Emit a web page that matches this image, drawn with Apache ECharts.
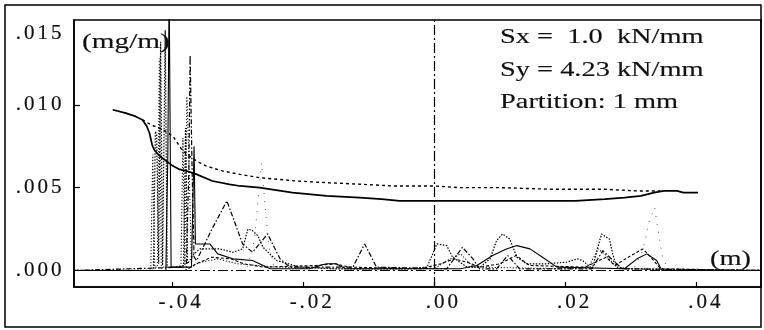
<!DOCTYPE html>
<html>
<head>
<meta charset="utf-8">
<script src="https://cdn.jsdelivr.net/npm/echarts@6/dist/echarts.min.js"></script>
<style>
  html, body { margin: 0; padding: 0; background: #fff; }
  #chart { width: 764px; height: 330px; }
</style>
</head>
<body>
<div id="chart"></div>
<script>
// Positions along the specimen in metres, densities in mg/m.
const xTickValues = [-0.04, -0.02, 0, 0.02, 0.04];
const xTickLabels = ['-.04', '-.02', '.00', '.02', '.04'];
const yTickValues = [0, 0.005, 0.010, 0.015];
const yTickLabels = ['.000', '.005', '.010', '.015'];

// Overall curve (solid)
const totalX = [-0.0490, -0.0470, -0.0455, -0.0445, -0.0438, -0.0434, -0.0430, -0.0427, -0.0423, -0.0415,
  -0.0408, -0.0398, -0.0388, -0.0377, -0.0362, -0.0338, -0.0312, -0.0296, -0.0266, -0.0216,
  -0.0164, -0.0114, -0.0080, -0.0053, 0.0039, 0.0120, 0.0200, 0.0215, 0.0260, 0.0290,
  0.0315, 0.0335, 0.0350, 0.0370, 0.0380, 0.0402];
const totalY = [0.0097, 0.0095, 0.0093, 0.0091, 0.0087, 0.0083, 0.0076, 0.0073, 0.0071, 0.0068,
  0.0066, 0.0063, 0.0061, 0.0060, 0.0058, 0.0054, 0.0052, 0.0051, 0.0050, 0.0047,
  0.0045, 0.0044, 0.0043, 0.0042, 0.0042, 0.0042, 0.0042, 0.0042, 0.0043, 0.0044,
  0.0045, 0.0047, 0.0048, 0.0048, 0.0047, 0.0047];

// Second overall curve (short dashes)
const upperX = [-0.0445, -0.0432, -0.0414, -0.0398, -0.0383, -0.0373, -0.0362, -0.0347, -0.0322, -0.0296,
  -0.0266, -0.0210, -0.0164, -0.0110, -0.0063, 0.0000, 0.0039, 0.0100, 0.0180, 0.0260, 0.0310, 0.0345];
const upperY = [0.0091, 0.0088, 0.0085, 0.0081, 0.0072, 0.0069, 0.0066, 0.0063, 0.0060, 0.0058,
  0.0056, 0.0054, 0.0053, 0.0052, 0.0051, 0.0051, 0.0050, 0.0050, 0.0049, 0.0049, 0.0048, 0.0048];

// Dotted component
const dotX = [-0.0549, -0.0428, -0.0425, -0.0423, -0.0420, -0.0417, -0.0414, -0.0410, -0.0407, -0.0395,
  -0.0382, -0.0379, -0.0376, -0.0366, -0.0357, -0.0327, -0.0307, -0.0292, -0.0284, -0.0277,
  -0.0269, -0.0261, -0.0240, -0.0205, -0.0150, -0.0100, -0.0040, -0.0011, 0.0004, 0.0019,
  0.0028, 0.0050, 0.0070, 0.0085, 0.0095, 0.0104, 0.0115, 0.0126, 0.0141, 0.0171,
  0.0202, 0.0218, 0.0226, 0.0241, 0.0248, 0.0255, 0.0267, 0.0272, 0.0278, 0.0300, 0.0497];
const dotY = [0, 0, 0.0084, 0.0082, 0.0004, 0.0138, 0.0003, 0.0145, 0.0002, 0.0002,
  0.0003, 0.0086, 0.0004, 0.0010, 0.0013, 0.0013, 0.0011, 0.0013, 0.0025, 0.0024,
  0.0021, 0.0014, 0.0006, 0.0002, 0.0001, 0.0001, 0.0001, 0.0002, 0.0016, 0.0015,
  0.0008, 0.0002, 0.0002, 0.0007, 0.0018, 0.0022, 0.0019, 0.0008, 0.0004, 0.0004,
  0.0005, 0.0007, 0.0006, 0.0001, 0.0012, 0.0022, 0.0019, 0.0010, 0.0002, 0.0001, 0];

// Second dotted component
const dot2X = [-0.0549, -0.0432, -0.0429, -0.0426, -0.0422, -0.0419, -0.0416, -0.0412, -0.0386, -0.0383,
  -0.0380, -0.0377, -0.0374, -0.0370, -0.0355, -0.0330, -0.0300, -0.0240, -0.0150, 0.0000,
  0.0020, 0.0040, 0.0060, 0.0200, 0.0235, 0.0250, 0.0262, 0.0280, 0.0497];
const dot2Y = [0, 0, 0.0070, 0.0002, 0.0002, 0.0128, 0.0003, 0.0002, 0.0002, 0.0080,
  0.0003, 0.0105, 0.0070, 0.0003, 0.0005, 0.0007, 0.0004, 0.0002, 0.0001, 0.0001,
  0.0006, 0.0010, 0.0002, 0.0001, 0.0002, 0.0013, 0.0009, 0.0001, 0];

// Dash-dot component
const dashDotX = [-0.0549, -0.0378, -0.0374, -0.0372, -0.0369, -0.0366, -0.0362, -0.0340, -0.0316, -0.0292,
  -0.0277, -0.0254, -0.0235, -0.0220, -0.0124, -0.0106, -0.0088, 0.0019, 0.0043, 0.0059,
  0.0069, 0.0095, 0.0112, 0.0130, 0.0240, 0.0257, 0.0275, 0.0287, 0.0497];
const dashDotY = [0, 0.0002, 0.0060, 0.0130, 0.0060, 0.0008, 0.0006, 0.0024, 0.0042, 0.0016,
  0.0011, 0.0022, 0.0007, 0.0002, 0.0002, 0.0016, 0.0002, 0.0001, 0.0014, 0.0007,
  0.0001, 0.0001, 0.0009, 0.0001, 0.0001, 0.0012, 0.0005, 0.0001, 0];

// Thin solid component
const thinX = [-0.0549, -0.0409, -0.0406, -0.0404, -0.0401, -0.0370, -0.0366, -0.0364, -0.0364, -0.0342,
  -0.0330, -0.0307, -0.0277, -0.0250, -0.0190, -0.0175, -0.0164, -0.0150, -0.0135, 0.0040,
  0.0065, 0.0089, 0.0110, 0.0126, 0.0146, 0.0165, 0.0187, 0.0290, 0.0309, 0.0324,
  0.0339, 0.0347, 0.0497];
const thinY = [0, 0, 0.0070, 0.0170, 0.0002, 0.0002, 0.0075, 0.0075, 0.0016, 0.0016,
  0.0010, 0.0007, 0.0006, 0.0001, 0.0001, 0.0003, 0.0004, 0.0004, 0.0001, 0.0001,
  0.0003, 0.0009, 0.0013, 0.0015, 0.0013, 0.0008, 0.0002, 0.0001, 0.0007, 0.0010,
  0.0006, 0, 0];

// Dashed component
const dashX = [-0.0549, -0.0380, -0.0362, -0.0340, -0.0310, -0.0290, -0.0260, -0.0180, -0.0150, -0.0130,
  -0.0020, 0.0010, 0.0030, 0.0050, 0.0070, 0.0100, 0.0125, 0.0145, 0.0230, 0.0262,
  0.0275, 0.0300, 0.0318, 0.0330, 0.0345, 0.0497];
const dashY = [0, 0, 0.0004, 0.0008, 0.0007, 0.0004, 0.0002, 0.0003, 0.0004, 0.0002,
  0.0001, 0.0004, 0.0007, 0.0005, 0.0002, 0.0004, 0.0009, 0.0003, 0.0002, 0.0008,
  0.0003, 0.0009, 0.0013, 0.0008, 0.0001, 0];

// Sparse dotted peaks
const sparseAX = [-0.0285, -0.0274, -0.0268, -0.0263, -0.0258, -0.0252, -0.0244];
const sparseAY = [0.0002, 0.0018, 0.0045, 0.0065, 0.0040, 0.0014, 0.0002];
const sparseBX = [0.0305, 0.0318, 0.0328, 0.0336, 0.0342, 0.0348, 0.0356];
const sparseBY = [0.0002, 0.0012, 0.0030, 0.0038, 0.0022, 0.0008, 0.0001];

const SERIF = '"Liberation Serif", "Times New Roman", serif';
const INK = '#111';

function pairs(xs, ys) { return xs.map((x, i) => [x, ys[i]]); }
function spaced(s, first) {
  return s.split('').map((ch, i) => '{' + (i === 0 && first ? first : 'c') + '|' + ch + '}').join('');
}
function lookup(values, labels, v) {
  const i = values.findIndex(t => Math.abs(t - v) < 1e-9);
  return i < 0 ? '' : labels[i];
}

function lineSeries(name, xs, ys, type, width, z, color) {
  return {
    name, type: 'line', data: pairs(xs, ys), symbol: 'none', z: z || 2,
    animation: false, clip: true,
    lineStyle: { color: color || '#000', width: width, type: type }
  };
}

const chart = echarts.init(document.getElementById('chart'), null, { renderer: 'canvas' });

const series = [
  lineSeries('dotted', dotX, dotY, [1.5, 1.5], 1.2, 3),
  lineSeries('dotted2', dot2X, dot2Y, [1.2, 1.8], 1.1, 3, '#222'),
  lineSeries('dashdot', dashDotX, dashDotY, [5, 2, 1.5, 2], 1.2, 3),
  lineSeries('thin', thinX, thinY, 'solid', 1.1, 3),
  lineSeries('dashed', dashX, dashY, [3, 2], 1.1, 3),
  lineSeries('sparseA', sparseAX, sparseAY, [1, 7], 1, 3, '#555'),
  lineSeries('sparseB', sparseBX, sparseBY, [1, 7], 1, 3, '#555'),
  lineSeries('upper', upperX, upperY, [3, 3], 1.4, 4),
  lineSeries('total', totalX, totalY, 'solid', 1.7, 5)
];
// zero line and centre line
series[0].markLine = {
  silent: true, symbol: 'none', animation: false,
  label: { show: false },
  lineStyle: { color: '#000', width: 1.2, type: [10, 3, 2, 3] },
  data: [{ yAxis: 0 }, { xAxis: 0 }]
};

const tickFont = { fontFamily: SERIF, fontSize: 21, color: INK, textBorderColor: INK, textBorderWidth: 0.2 };
const textStyle = (txt) => ({ text: txt, font: '22px ' + SERIF, fill: INK, stroke: INK, lineWidth: 0.15, verticalAlign: 'middle' });
const frameLine = { show: true, onZero: false, lineStyle: { color: '#000', width: 1.6 } };

chart.setOption({
  animation: false,
  backgroundColor: '#fff',
  grid: {
    left: 74, right: 3, top: 13, bottom: 43,
    show: true, borderColor: '#000', borderWidth: 1.6, backgroundColor: 'transparent'
  },
  xAxis: {
    type: 'value', min: -0.0549, max: 0.0498, position: 'bottom',
    axisLine: frameLine,
    splitLine: { show: false },
    axisTick: { show: true, inside: true, length: 5, customValues: xTickValues, lineStyle: { color: '#000', width: 1.2 } },
    axisLabel: {
      show: true, margin: 5, customValues: xTickValues,
      formatter: v => spaced(lookup(xTickValues, xTickLabels, v), 'f'),
      rich: {
        c: Object.assign({ padding: [0, 1.5, 0, 1.5] }, tickFont),
        f: Object.assign({ padding: [0, 1.5, 0, 17] }, tickFont)
      }
    }
  },
  yAxis: {
    type: 'value', min: -0.001, max: 0.01512, position: 'left',
    axisLine: frameLine,
    splitLine: { show: false },
    axisTick: { show: true, inside: true, length: 6, customValues: [0.005, 0.010], lineStyle: { color: '#000', width: 1.2 } },
    axisLabel: {
      show: true, margin: 11, customValues: yTickValues, lineHeight: 22,
      formatter: v => {
        const s = spaced(lookup(yTickValues, yTickLabels, v));
        return Math.abs(v - 0.015) < 1e-9 ? '\n' + s : s;
      },
      rich: {
        c: Object.assign({ padding: [0, 1.5, 0, 1.5], lineHeight: 22 }, tickFont)
      }
    }
  },
  series: series,
  graphic: [
    { type: 'rect', silent: true, shape: { x: 5, y: 5, width: 756, height: 322 },
      style: { fill: 'none', stroke: '#000', lineWidth: 1.5 }, z: 1 },
    { type: 'text', x: 82, y: 42, scaleX: 1.33, silent: true, z: 10, style: textStyle('(mg/m)') },
    { type: 'text', x: 710, y: 259, scaleX: 1.29, silent: true, z: 10, style: textStyle('(m)') },
    { type: 'text', x: 500, y: 37, scaleX: 1.29, silent: true, z: 10, style: textStyle('Sx =  1.0  kN/mm') },
    { type: 'text', x: 500, y: 70, scaleX: 1.29, silent: true, z: 10, style: textStyle('Sy = 4.23 kN/mm') },
    { type: 'text', x: 500, y: 102, scaleX: 1.29, silent: true, z: 10, style: textStyle('Partition: 1 mm') }
  ]
});
</script>
</body>
</html>
